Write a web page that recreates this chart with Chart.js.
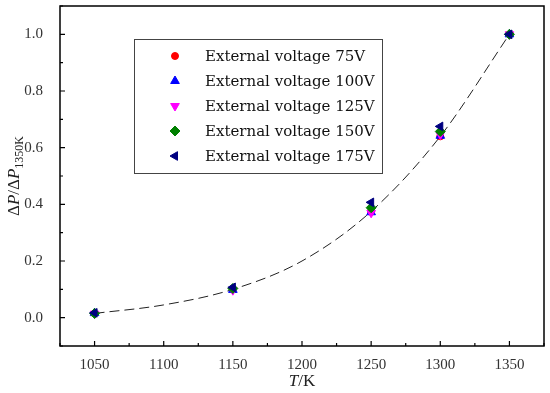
<!DOCTYPE html>
<html>
<head>
<meta charset="utf-8">
<script src="https://cdn.jsdelivr.net/npm/chart.js@4.4.0/dist/chart.umd.min.js"></script>
<style>
	html, body { margin: 0; padding: 0; background: #fff; }
	#wrap { width: 550px; height: 393px; position: relative; }
</style>
</head>
<body>
<div id="wrap"><canvas id="chart"></canvas></div>
<script>
// Temperatures (K)
const temps = [1050, 1150, 1250, 1300, 1350];

// Normalised pressure drop for each external voltage
const v75 = [0.015, 0.100, 0.375, 0.640, 1.000];
const v100 = [0.016, 0.098, 0.372, 0.642, 1.000];
const v125 = [0.014, 0.097, 0.370, 0.646, 1.000];
const v150 = [0.015, 0.103, 0.388, 0.657, 1.000];
const v175 = [0.017, 0.107, 0.407, 0.675, 1.000];

// Dashed fit curve
const fitT = [1050, 1100, 1150, 1200, 1250, 1300, 1350];
const fitY = [0.015, 0.045, 0.100, 0.200, 0.375, 0.640, 1.000];

// Axis ticks
const xTicks = [1050, 1100, 1150, 1200, 1250, 1300, 1350];
const yTicks = [0.0, 0.2, 0.4, 0.6, 0.8, 1.0];

const SERIF = '"Liberation Serif", "DejaVu Serif", serif';
const LEG_FONT = '15px "DejaVu Serif", serif';

function pts(ys) {
	return temps.map((t, i) => ({ x: t, y: ys[i] }));
}

function series(label, ys, color, style, rot, r, order) {
	return {
		label: label,
		data: pts(ys),
		showLine: false,
		pointStyle: style,
		rotation: rot,
		pointRadius: r,
		pointBackgroundColor: color,
		pointBorderColor: color,
		pointBorderWidth: 1,
		backgroundColor: color,
		borderColor: color,
		order: order
	};
}

const datasets = [
	series('External voltage 75V', v75, '#ff0000', 'circle', 0, 3.5, 5),
	series('External voltage 100V', v100, '#0000ff', 'triangle', 0, 5, 4),
	series('External voltage 125V', v125, '#ff00ff', 'triangle', 180, 5, 3),
	series('External voltage 150V', v150, '#008000', 'rectRot', 0, 5, 2),
	series('External voltage 175V', v175, '#000080', 'triangle', -90, 5, 1),
	{
		label: 'fit',
		data: fitT.map((t, i) => ({ x: t, y: fitY[i] })),
		showLine: true,
		borderColor: '#222',
		borderWidth: 1,
		borderDash: [10, 5],
		pointRadius: 0,
		cubicInterpolationMode: 'monotone',
		order: 10
	}
];

// frame, inward ticks, axis titles and the boxed legend
const decorPlugin = {
	id: 'decor',
	afterDraw(chart) {
		const ctx = chart.ctx;
		const a = chart.chartArea;
		const xs = chart.scales.x;
		const ys = chart.scales.y;
		ctx.save();

		// frame
		ctx.strokeStyle = '#000';
		ctx.lineWidth = 1.5;
		ctx.strokeRect(a.left, a.top, a.right - a.left, a.bottom - a.top);

		// ticks
		ctx.lineWidth = 1.2;
		ctx.beginPath();
		for (let v = 1025; v <= 1375; v += 25) {
			const px = xs.getPixelForValue(v);
			const len = xTicks.includes(v) ? 5 : 3;
			ctx.moveTo(px, a.bottom);
			ctx.lineTo(px, a.bottom - len);
		}
		for (let k = -1; k <= 11; k++) {
			const v = k / 10;
			const py = ys.getPixelForValue(v);
			const len = k % 2 === 0 ? 5 : 3;
			ctx.moveTo(a.left, py);
			ctx.lineTo(a.left + len, py);
		}
		ctx.stroke();

		// x title
		ctx.fillStyle = '#222';
		ctx.textBaseline = 'middle';
		const xc = (a.left + a.right) / 2;
		ctx.font = 'italic 17px ' + SERIF;
		const wT = ctx.measureText('T').width;
		ctx.font = '17px ' + SERIF;
		const wK = ctx.measureText('/K').width;
		let x0 = xc - (wT + wK) / 2;
		ctx.textAlign = 'left';
		ctx.font = 'italic 17px ' + SERIF;
		ctx.fillText('T', x0, 382);
		ctx.font = '17px ' + SERIF;
		ctx.fillText('/K', x0 + wT, 382);

		// y title with subscript
		const parts = [
			{ t: 'Δ', f: '17px ' + SERIF, dy: 0 },
			{ t: 'P', f: 'italic 17px ' + SERIF, dy: 0 },
			{ t: '/Δ', f: '17px ' + SERIF, dy: 0 },
			{ t: 'P', f: 'italic 17px ' + SERIF, dy: 0 },
			{ t: '1350K', f: '12px ' + SERIF, dy: 5 }
		];
		let total = 0;
		parts.forEach(p => { ctx.font = p.f; p.w = ctx.measureText(p.t).width; total += p.w; });
		ctx.translate(15, (a.top + a.bottom) / 2);
		ctx.rotate(-Math.PI / 2);
		let cx = -total / 2;
		parts.forEach(p => {
			ctx.font = p.f;
			ctx.fillText(p.t, cx, p.dy);
			cx += p.w;
		});
		ctx.setTransform(1, 0, 0, 1, 0, 0);

		// legend box
		const lx = 134, ly = 39, lw = 248, lh = 134;
		ctx.fillStyle = '#fff';
		ctx.fillRect(lx, ly, lw, lh);
		ctx.strokeStyle = '#444';
		ctx.lineWidth = 1;
		ctx.strokeRect(lx + 0.5, ly + 0.5, lw, lh);
		ctx.font = LEG_FONT;
		ctx.textAlign = 'left';
		ctx.textBaseline = 'middle';
		datasets.slice(0, 5).forEach((ds, i) => {
			const yy = 56 + i * 25;
			ctx.fillStyle = ds.pointBackgroundColor;
			ctx.strokeStyle = ds.pointBorderColor;
			ctx.lineWidth = 1;
			Chart.helpers.drawPoint(ctx, {
				pointStyle: ds.pointStyle,
				rotation: ds.rotation,
				radius: ds.pointRadius,
				borderWidth: 1
			}, 175, yy);
			ctx.fillStyle = '#111';
			ctx.fillText(ds.label, 205, yy + 1);
		});
		ctx.restore();
	}
};

new Chart(document.getElementById('chart'), {
	type: 'scatter',
	data: { datasets: datasets },
	options: {
		responsive: true,
		maintainAspectRatio: false,
		animation: false,
		layout: { padding: { top: 4, right: 5, left: 0, bottom: 0 } },
		plugins: {
			legend: { display: false },
			tooltip: { enabled: false }
		},
		scales: {
			x: {
				type: 'linear',
				min: 1025,
				max: 1375,
				grid: { display: false },
				border: { display: false },
				afterBuildTicks: s => { s.ticks = xTicks.map(v => ({ value: v })); },
				afterFit: s => {
					s.height = 47;
					s.paddingLeft = 0;
					s.paddingRight = 0;
				},
				ticks: {
					color: '#333',
					padding: 2,
					maxRotation: 0,
					font: { family: SERIF, size: 15 },
					callback: v => String(v)
				}
			},
			y: {
				min: -0.1,
				max: 1.1,
				grid: { display: false },
				border: { display: false },
				afterBuildTicks: s => { s.ticks = yTicks.map(v => ({ value: v })); },
				afterFit: s => {
					s.width = 60;
					s.paddingTop = 0;
					s.paddingBottom = 0;
				},
				ticks: {
					color: '#333',
					padding: 9,
					font: { family: SERIF, size: 15 },
					callback: v => v.toFixed(1)
				}
			}
		}
	},
	plugins: [decorPlugin]
});
</script>
</body>
</html>
